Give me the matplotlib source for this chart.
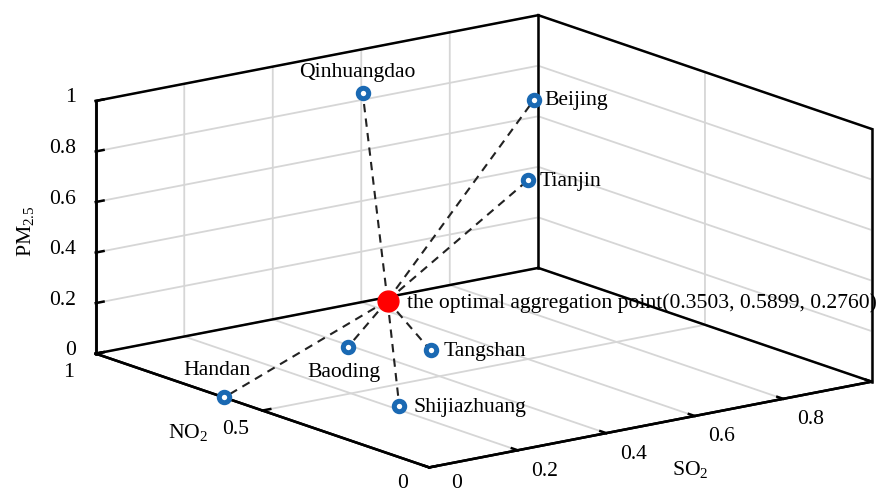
import matplotlib
matplotlib.use("Agg")
import matplotlib.pyplot as plt
import numpy as np
from mpl_toolkits.mplot3d import proj3d

plt.rcParams['font.family'] = ['Liberation Serif', 'DejaVu Serif']
plt.rcParams['mathtext.fontset'] = 'custom'
plt.rcParams['mathtext.rm'] = 'Liberation Serif'
plt.rcParams['mathtext.it'] = 'Liberation Serif:italic'

# ---- data (normalized indicators) ----
cities = ['Beijing', 'Tianjin', 'Qinhuangdao', 'Tangshan', 'Baoding', 'Shijiazhuang', 'Handan']
so2 = [0.635, 0.608, 0.42, 0.496, 0.39, 0.215, 0.0]
no2 = [0.529, 0.511, 0.757, 0.654, 0.762, 0.375, 0.615]
pm25 = [1.0, 0.70, 1.0, 0.0, 0.0, 0.0, 0.0]
opt = (0.3503, 0.5899, 0.2760)
opt_label = 'the optimal aggregation point(0.3503, 0.5899, 0.2760)'
so2_ticks = [0, 0.2, 0.4, 0.6, 0.8, 1.0]
so2_ticklabels = ['0', '0.2', '0.4', '0.6', '0.8', '']
no2_ticks = [0, 0.5, 1.0]
no2_ticklabels = ['0', '0.5', '1']
pm_ticks = [0, 0.2, 0.4, 0.6, 0.8, 1.0]
pm_ticklabels = ['0', '0.2', '0.4', '0.6', '0.8', '1']

# label placement: (dx px, dy px (down positive), ha)
label_pos = {
    'Beijing': (11, 5, 'left'),
    'Tianjin': (12, 6, 'left'),
    'Qinhuangdao': (-5, -16, 'center'),
    'Tangshan': (13, 6, 'left'),
    'Baoding': (-4, 30, 'center'),
    'Shijiazhuang': (14, 6, 'left'),
    'Handan': (-7, -22, 'center'),
}

BLUE = '#1a69b3'
FS = 15.6

fig = plt.figure(figsize=(8.9, 4.95), dpi=100)
ax = fig.add_subplot(projection='3d', proj_type='ortho')
ax.set_position([0.036, -0.001, 1.0, 1.0])
ax.view_init(elev=14.9, azim=-127.0)
ax.set_box_aspect((1, 1, 0.472), zoom=1.62)
ax.set_xlim(0, 1); ax.set_ylim(0, 1); ax.set_zlim(0, 1)
ax.computed_zorder = False

ax.set_xticks(so2_ticks); ax.set_yticks(no2_ticks); ax.set_zticks(pm_ticks)
ax.set_xticklabels([]); ax.set_yticklabels([]); ax.set_zticklabels([])

for a in (ax.xaxis, ax.yaxis, ax.zaxis):
    a.pane.fill = False
    a.pane.set_edgecolor('none')
    a.line.set_linewidth(1.8)
    a.line.set_color('black')
    a._axinfo['grid'].update(color='#d6d6d6', linewidth=1.3)
    a._axinfo['tick'].update(inward_factor=0.0, outward_factor=0.22)
    a._axinfo['tick']['linewidth'].update({True: 1.8, False: 1.0})
    a.set_tick_params(width=1.8, color='black')

# box frame (back panes outline) from axis limits
x0, x1 = ax.get_xlim(); y0, y1 = ax.get_ylim(); z0, z1 = ax.get_zlim()
edges = [((x0, y0, z0), (x1, y0, z0)), ((x0, y0, z0), (x0, y1, z0)),
         ((x0, y1, z0), (x1, y1, z0)), ((x1, y0, z0), (x1, y1, z0)),
         ((x0, y1, z0), (x0, y1, z1)), ((x1, y1, z0), (x1, y1, z1)),
         ((x1, y0, z0), (x1, y0, z1)), ((x0, y1, z1), (x1, y1, z1)),
         ((x1, y0, z1), (x1, y1, z1))]
for p, q in edges:
    ax.plot([p[0], q[0]], [p[1], q[1]], [p[2], q[2]], color='black', lw=1.8,
            solid_capstyle='projecting', zorder=1, clip_on=False)

# dashed links from optimal point
for xs, ys, zs in zip(so2, no2, pm25):
    ax.plot([opt[0], xs], [opt[1], ys], [opt[2], zs], ls=(0, (4, 3)), color='#222222',
            lw=1.5, zorder=2, clip_on=False)

ax.plot(so2, no2, pm25, 'o', ms=7.5, mfc='white', mec=BLUE, mew=3.6, ls='none',
        zorder=3, clip_on=False)
ax.plot([opt[0]], [opt[1]], [opt[2]], 'o', ms=15, color='#ff0000', mec='#ff0000',
        zorder=4, clip_on=False)

fig.canvas.draw()
M = ax.get_proj()

def p2(x, y, z):
    xs, ys, _ = proj3d.proj_transform(x, y, z, M)
    return (xs, ys)

def lab(text, xyz, dx, dy, ha, va='baseline', **kw):
    ax.annotate(text, xy=p2(*xyz), xycoords='data', xytext=(dx, -dy),
                textcoords='offset pixels', ha=ha, va=va, fontsize=FS,
                annotation_clip=False, zorder=5, **kw)

for name, xs, ys, zs in zip(cities, so2, no2, pm25):
    dx, dy, ha = label_pos[name]
    lab(name, (xs, ys, zs), dx, dy, ha)
lab(opt_label, opt, 19, 7, 'left')

# tick labels
for t, s in zip(so2_ticks, so2_ticklabels):
    if s:
        dy = 21 if t > 0 else 16
        lab(s, (t, y0, z0), 27, dy, 'center', va='center')
for t, s in zip(no2_ticks, no2_ticklabels):
    dy = 19 if t > 0 else 16
    lab(s, (x0, t, z0), -27, dy, 'center', va='center')
for t, s in zip(pm_ticks, pm_ticklabels):
    lab(s, (x0, y1, t), -20, -3, 'right', va='center')

fig.text(168 / 890, 1 - 438 / 495, 'NO$_2$', fontsize=FS, ha='left', va='baseline')
fig.text(672 / 890, 1 - 475 / 495, 'SO$_2$', fontsize=FS, ha='left', va='baseline')
fig.text(25 / 890, 1 - 231 / 495, 'PM$_{2.5}$', fontsize=FS, rotation=90, ha='center', va='center')

fig.savefig('out.png', dpi=100)
